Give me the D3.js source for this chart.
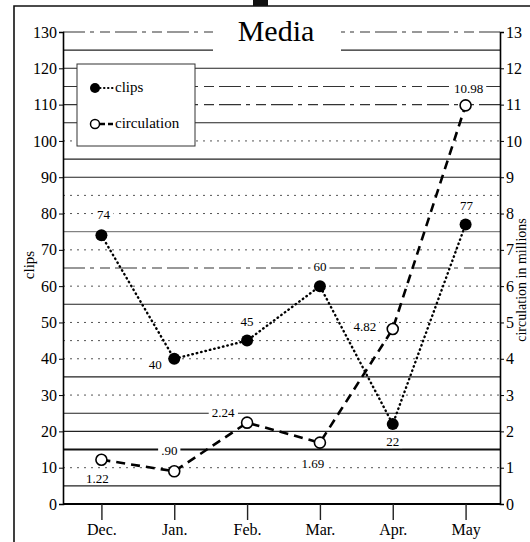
<!DOCTYPE html>
<html>
<head>
<meta charset="utf-8">
<script src="https://cdn.jsdelivr.net/npm/d3@7"></script>
<style>
  body { margin: 0; background: #fff; }
  svg { display: block; font-family: "Liberation Serif", "DejaVu Serif", serif; }
  svg text { font-family: "Liberation Serif", "DejaVu Serif", serif !important; }
</style>
</head>
<body>
<svg id="media" width="530" height="542"></svg>
<script>
// data
const months = ["Dec.", "Jan.", "Feb.", "Mar.", "Apr.", "May"];
const clips = [74, 40, 45, 60, 22, 77];
const circulation = [1.22, 0.90, 2.24, 1.69, 4.82, 10.98];
const clipTicks = [0, 10, 20, 30, 40, 50, 60, 70, 80, 90, 100, 110, 120, 130];
const circTicks = [0, 1, 2, 3, 4, 5, 6, 7, 8, 9, 10, 11, 12, 13];
const gridValues = d3.range(5, 131, 5);

// looks of the ruled lines (solid / dotted / dashed), one per grid value
const gridLook = {
  5: "s", 10: "d", 15: "S", 20: "s", 25: "s", 30: "d", 35: "s", 40: "d", 45: "d",
  50: "d", 55: "s", 60: "d", 65: "m", 70: "d", 75: "g", 80: "d", 85: "d", 90: "s",
  95: "s", 100: "d", 105: "s", 110: "m", 115: "m", 120: "s", 125: "s", 130: "m"
};
const lookStyle = {
  s: { w: 1.1, c: "#222", dash: null },
  S: { w: 2, c: "#111", dash: null },
  g: { w: 1, c: "#666", dash: null },
  d: { w: 1, c: "#555", dash: "2,5" },
  m: { w: 1.1, c: "#333", dash: "22,5,4,6,10,5" }
};

// label offsets from the point (dx, dy)
const clipLabelPos = [[2, -20], [-19, 6], [0, -19], [0, -19], [0, 18], [1, -18]];
const circLabelPos = [[-4, 19], [-5, -20], [-24, -10], [-7, 21], [-28, -2], [3, -16]];

const svg = d3.select("#media");
const W = 530, H = 542;
const plotL = 63, plotR = 500, plotT = 32, plotB = 504;

const x = d3.scalePoint().domain(months).range([65, 502]).padding(0.5);
const y = d3.scaleLinear().domain([0, 130]).range([plotB, plotT]);
const yR = d3.scaleLinear().domain([0, 13]).range([plotB, plotT]);

// frame
svg.append("rect").attr("width", W).attr("height", H).attr("fill", "#fff");
svg.append("path")
  .attr("d", `M14,${H} L14,6 L${W},6`)
  .attr("fill", "none").attr("stroke", "#111").attr("stroke-width", 1.6);
svg.append("rect").attr("x", 253).attr("y", 0).attr("width", 15).attr("height", 6).attr("fill", "#111");

// ruled grid
svg.append("g").selectAll("line")
  .data(gridValues)
  .join("line")
  .attr("x1", plotL).attr("x2", plotR)
  .attr("y1", d => y(d)).attr("y2", d => y(d))
  .attr("stroke", d => lookStyle[gridLook[d]].c)
  .attr("stroke-width", d => lookStyle[gridLook[d]].w)
  .attr("stroke-dasharray", d => lookStyle[gridLook[d]].dash);

// title
svg.append("rect").attr("x", 213).attr("y", 8).attr("width", 128).attr("height", 50).attr("fill", "#fff");
svg.append("text")
  .attr("x", 276).attr("y", 41)
  .attr("text-anchor", "middle")
  .attr("font-size", 30)
  .attr("fill", "#000")
  .text("Media");

// axes
const yAxis = d3.axisLeft(y).tickValues(clipTicks).tickSize(4).tickPadding(2);
const gl = svg.append("g").attr("transform", `translate(${plotL},0)`).call(yAxis);
gl.select(".domain").attr("stroke", "#000").attr("stroke-width", 1.6);
gl.selectAll("text").attr("font-size", 16).attr("fill", "#000");

const yAxisR = d3.axisRight(yR).tickValues(circTicks).tickSize(4).tickPadding(2);
const gr = svg.append("g").attr("transform", `translate(${plotR},0)`).call(yAxisR);
gr.select(".domain").attr("stroke", "#000").attr("stroke-width", 1.6);
gr.selectAll("text").attr("font-size", 16).attr("fill", "#000");

svg.append("line")
  .attr("x1", plotL).attr("x2", plotR).attr("y1", plotB).attr("y2", plotB)
  .attr("stroke", "#000").attr("stroke-width", 2);

const xAxis = d3.axisBottom(x).tickSize(16).tickPadding(4);
const gx = svg.append("g").attr("transform", `translate(0,${plotB})`).call(xAxis);
gx.select(".domain").remove();
gx.selectAll("line").attr("stroke", "#222").attr("stroke-width", 1.4);
gx.selectAll("text").attr("font-size", 16).attr("fill", "#000");

// axis titles
svg.append("text")
  .attr("transform", "translate(34,265) rotate(-90)")
  .attr("text-anchor", "middle")
  .attr("font-size", 15)
  .text("clips");
svg.append("text")
  .attr("transform", "translate(526,280) rotate(-90)")
  .attr("text-anchor", "middle")
  .attr("font-size", 14)
  .text("circulation in millions");

// series lines
const clipLine = d3.line().x((d, i) => x(months[i])).y(d => y(d));
const circLine = d3.line().x((d, i) => x(months[i])).y(d => yR(d));

svg.append("path")
  .datum(clips)
  .attr("d", clipLine)
  .attr("fill", "none").attr("stroke", "#000")
  .attr("stroke-width", 2.4)
  .attr("stroke-linecap", "round")
  .attr("stroke-dasharray", "0.5,4");

svg.append("path")
  .datum(circulation)
  .attr("d", circLine)
  .attr("fill", "none").attr("stroke", "#000")
  .attr("stroke-width", 2.6)
  .attr("stroke-dasharray", "9,6");

// value labels
const fmtCirc = v => d3.format(".2f")(v).replace(/^0/, "");

function addLabels(vals, scale, pos, fmt) {
  const g = svg.append("g");
  vals.forEach((v, i) => {
    const cx = x(months[i]) + pos[i][0];
    const cy = scale(v) + pos[i][1];
    const t = g.append("text")
      .attr("x", cx).attr("y", cy + 4)
      .attr("text-anchor", "middle")
      .attr("font-size", 13)
      .text(fmt(v));
    const b = t.node().getBBox();
    g.insert("rect", "text")
      .attr("x", b.x - 3).attr("y", b.y + 1)
      .attr("width", b.width + 6).attr("height", b.height - 2)
      .attr("fill", "#fff");
  });
}
addLabels(clips, y, clipLabelPos, d3.format("d"));
addLabels(circulation, yR, circLabelPos, fmtCirc);

// markers
svg.append("g").selectAll("circle")
  .data(clips)
  .join("circle")
  .attr("cx", (d, i) => x(months[i]))
  .attr("cy", d => y(d))
  .attr("r", 6)
  .attr("fill", "#000");

svg.append("g").selectAll("circle")
  .data(circulation)
  .join("circle")
  .attr("cx", (d, i) => x(months[i]))
  .attr("cy", d => yR(d))
  .attr("r", 5.5)
  .attr("fill", "#fff")
  .attr("stroke", "#000")
  .attr("stroke-width", 1.6);

// legend
const lg = svg.append("g");
lg.append("rect")
  .attr("x", 77).attr("y", 64).attr("width", 118).attr("height", 82)
  .attr("fill", "#fff").attr("stroke", "#333").attr("stroke-width", 1);
lg.append("line").attr("x1", 96).attr("x2", 114).attr("y1", 88).attr("y2", 88)
  .attr("stroke", "#000").attr("stroke-width", 2).attr("stroke-linecap", "round").attr("stroke-dasharray", "0.5,3.5");
lg.append("circle").attr("cx", 95).attr("cy", 88).attr("r", 5).attr("fill", "#000");
lg.append("text").attr("x", 115).attr("y", 92).attr("font-size", 15).text("clips");
lg.append("line").attr("x1", 100).attr("x2", 114).attr("y1", 124).attr("y2", 124)
  .attr("stroke", "#000").attr("stroke-width", 2.4).attr("stroke-dasharray", "5,3");
lg.append("circle").attr("cx", 95).attr("cy", 124).attr("r", 4.5)
  .attr("fill", "#fff").attr("stroke", "#000").attr("stroke-width", 1.5);
lg.append("text").attr("x", 115).attr("y", 128).attr("font-size", 15).text("circulation");
</script>
</body>
</html>
